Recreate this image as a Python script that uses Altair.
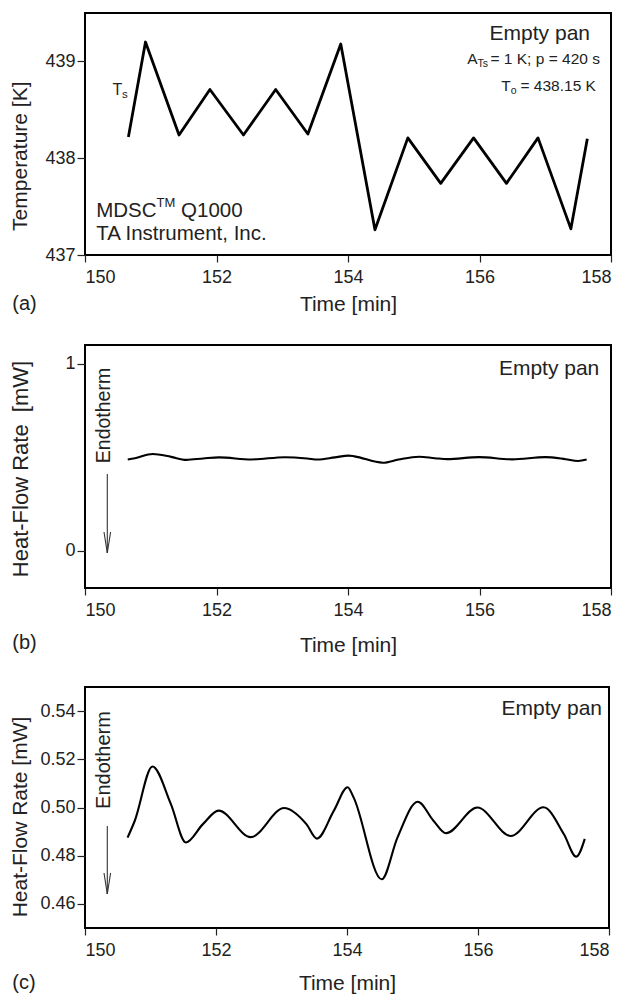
import altair as alt
import pandas as pd

# ---- data ----
time_a = [150.66, 150.92, 151.43, 151.90, 152.41, 152.90, 153.39, 153.89,
          154.41, 154.91, 155.41, 155.91, 156.41, 156.89, 157.39, 157.64]
temp_a = [438.22, 439.20, 438.24, 438.71, 438.24, 438.71, 438.25, 439.18,
          437.26, 438.21, 437.74, 438.21, 437.74, 438.21, 437.27, 438.20]

time_hf = [150.65, 150.76, 151.03, 151.31, 151.54, 151.80, 152.04, 152.53,
           153.04, 153.38, 153.54, 153.80, 154.01, 154.10, 154.53, 154.77,
           155.08, 155.32, 155.51, 155.99, 156.50, 157.00, 157.31, 157.50,
           157.63]
hf = [0.4875, 0.4945, 0.5170, 0.5015, 0.4855, 0.4931, 0.4987, 0.4877,
      0.4998, 0.4931, 0.4871, 0.4987, 0.5084, 0.5042, 0.4702, 0.4875,
      0.5024, 0.4945, 0.4893, 0.5000, 0.4882, 0.5001, 0.4890, 0.4796,
      0.4870]

x_ticks = [150, 152, 154, 156, 158]
temp_ticks = [437, 438, 439]
hf_b_ticks = [0, 1]
hf_c_ticks = [0.46, 0.48, 0.50, 0.52, 0.54]

FONT = "Liberation Sans"
TXT = "#222222"
one = pd.DataFrame({"d": [0]})

df_a = pd.DataFrame({"time": time_a, "temp": temp_a})
df_hf = pd.DataFrame({"time": time_hf, "hf": hf})


def txt(s, x, y, size, align="left", angle=None):
    kw = dict(font=FONT, fontSize=size, color=TXT, align=align, baseline="middle")
    if angle is not None:
        kw["angle"] = angle
    return alt.Chart(pd.DataFrame({"t": [s]})).mark_text(**kw).encode(
        x=alt.value(x), y=alt.value(y), text="t:N")


def seg(x1, y1, x2, y2):
    return alt.Chart(one).mark_rule(color="#333333", strokeWidth=1.1).encode(
        x=alt.value(x1), y=alt.value(y1), x2=alt.value(x2), y2=alt.value(y2))


def xaxis(title_y):
    return alt.Axis(values=x_ticks, title="Time [min]", titleY=title_y,
                    titleBaseline="middle", tickSize=7, labelPadding=6,
                    domain=False, grid=False, format="d")


def yaxis(vals, title, title_y, fmt, tsize=21):
    return alt.Axis(values=vals, title=title, titleX=-64.7, titleY=title_y,
                    titleBaseline="middle", titleFontSize=tsize, tickSize=8,
                    labelPadding=2, domain=False, grid=False, format=fmt)


xs = alt.Scale(domain=[150, 158], nice=False)

# ---- panel (a) ----
W, HA = 526, 242
line_a = alt.Chart(df_a).mark_line(color="black", strokeWidth=2.8,
                                   strokeJoin="round").encode(
    x=alt.X("time:Q", scale=xs, axis=xaxis(49)),
    y=alt.Y("temp:Q", scale=alt.Scale(domain=[437, 439.5], nice=False),
            axis=yaxis(temp_ticks, "Temperature [K]", 142.7, "d")))

pa = alt.layer(
    line_a,
    txt("Empty pan", 505, 21, 21, align="right"),
    txt("A", 382.3, 45.7, 15.5),
    txt("Ts", 392.6, 50.5, 10.5),
    txt("= 1 K; p = 420 s", 405.5, 45.7, 15.5),
    txt("T", 416.3, 72.7, 15.5),
    txt("o", 425.8, 77.5, 10.5),
    txt("= 438.15 K", 435.5, 72.7, 15.5),
    txt("T", 27.5, 77, 16),
    txt("s", 37, 82, 11.5),
    txt("MDSC", 11.2, 197.7, 20.5),
    txt("TM", 71.6, 190, 13),
    txt("Q1000", 96.1, 197.7, 20.5),
    txt("TA Instrument, Inc.", 11.2, 220.7, 20.5),
    txt("(a)", -72.7, 290.7, 20),
).properties(width=W, height=HA)

# ---- panel (b) ----
HB = 243
line_b = alt.Chart(df_hf).mark_line(color="black", strokeWidth=2.1,
                                    interpolate="monotone").encode(
    x=alt.X("time:Q", scale=xs, axis=xaxis(57.3)),
    y=alt.Y("hf:Q", scale=alt.Scale(domain=[-0.2, 1.1], nice=False),
            axis=yaxis(hf_b_ticks, "Heat-Flow Rate\u00a0\u00a0[mW]", 123.5, "d", 22)))

pb = alt.layer(
    line_b,
    txt("Empty pan", 514.3, 24, 21, align="right"),
    txt("Endotherm", 19, 70.5, 19.5, align="center", angle=270),
    seg(22.3, 129, 22.3, 208),
    seg(19, 187, 22.3, 208),
    seg(25.6, 187, 22.3, 208),
    txt("(b)", -72.7, 298, 20),
).properties(width=W, height=HB)

# ---- panel (c) ----
WC, HC = 524, 241
line_c = alt.Chart(df_hf).mark_line(color="black", strokeWidth=2.1,
                                    interpolate="monotone").encode(
    x=alt.X("time:Q", scale=xs, axis=xaxis(55.3)),
    y=alt.Y("hf:Q", scale=alt.Scale(domain=[0.45, 0.55], nice=False),
            axis=yaxis(hf_c_ticks, "Heat-Flow Rate [mW]", 129.5, ".2f")))

pc = alt.layer(
    line_c,
    txt("Empty pan", 517, 22.3, 21, align="right"),
    txt("Endotherm", 19, 73, 20, align="center", angle=270),
    seg(22.3, 139, 22.3, 207),
    seg(19, 186, 22.3, 207),
    seg(25.6, 186, 22.3, 207),
    txt("(c)", -72.7, 296, 20),
).properties(width=WC, height=HC)

chart = alt.vconcat(pa, pb, pc, spacing=29).properties(
    padding={"left": 0, "top": 4, "right": 0, "bottom": 0}
).configure_view(stroke="black", strokeWidth=2).configure_axis(
    labelFont=FONT, titleFont=FONT, labelFontSize=18, titleFontSize=21,
    labelColor=TXT, titleColor=TXT, tickColor="#222222", tickWidth=1.2,
    titleFontWeight="normal")

chart.save("out.html", embed_options={"renderer": "svg", "actions": False})
